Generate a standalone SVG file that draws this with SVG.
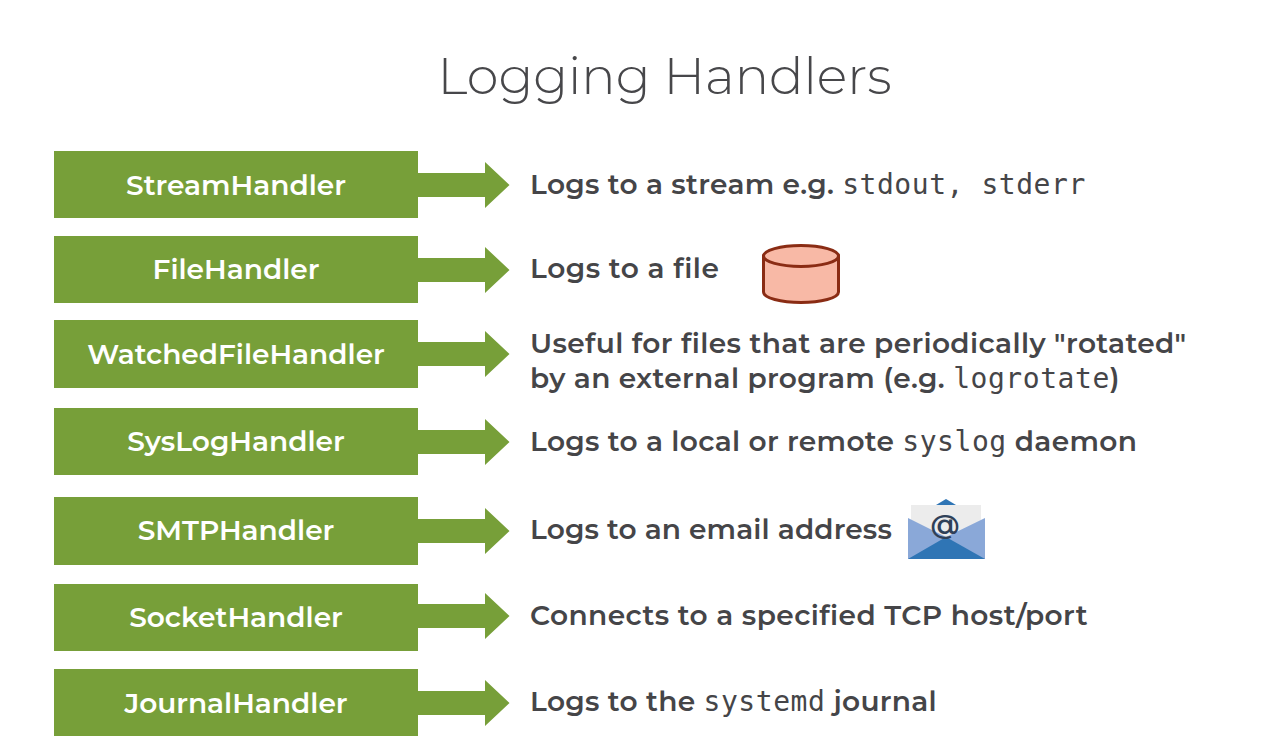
<svg xmlns="http://www.w3.org/2000/svg" width="1261" height="750" viewBox="0 0 1261 750">
<style>
text{font-family:"Montserrat","Open Sans","Liberation Sans",sans-serif}
.b{fill:#779f39}
.l{fill:#fff;font-size:28px;font-weight:600;text-anchor:middle}
.d{fill:#454548;font-size:28px;font-weight:600;letter-spacing:.32px}
.m{font-family:"DejaVu Sans Mono","Liberation Mono",monospace;font-weight:400;font-size:28px;letter-spacing:.55px}
.a{fill:#779f39}
</style>
<rect width="1261" height="750" fill="#fff"/>
<text x="664.500" y="94" font-size="51" fill="#47474a" text-anchor="middle" style="font-weight:300">Logging Handlers</text>
<g id="connectors">
<path class="a" d="M418 173H485V162L509.500 185L485 208V197H418Z"/>
<path class="a" d="M418 258H485V247L509.500 270L485 293V282H418Z"/>
<path class="a" d="M418 342H485V331L509.500 354L485 377V366H418Z"/>
<path class="a" d="M418 430H485V419L509.500 442L485 465V454H418Z"/>
<path class="a" d="M418 519H485V508L509.500 531L485 554V543H418Z"/>
<path class="a" d="M418 604H485V593L509.500 616L485 639V628H418Z"/>
<path class="a" d="M418 691H485V680L509.500 703L485 726V715H418Z"/>
</g>
<g id="n1"><rect class="b" x="54" y="151" width="364" height="67"/><text class="l" x="236" y="195">StreamHandler</text></g>
<g id="n2"><rect class="b" x="54" y="236" width="364" height="67"/><text class="l" x="236" y="279">FileHandler</text></g>
<g id="n3"><rect class="b" x="54" y="320" width="364" height="68"/><text class="l" x="236" y="364">WatchedFileHandler</text></g>
<g id="n4"><rect class="b" x="54" y="408" width="364" height="67"/><text class="l" x="236" y="451">SysLogHandler</text></g>
<g id="n5"><rect class="b" x="54" y="497" width="364" height="68"/><text class="l" x="236" y="540">SMTPHandler</text></g>
<g id="n6"><rect class="b" x="54" y="584" width="364" height="67"/><text class="l" x="236" y="627">SocketHandler</text></g>
<g id="n7"><rect class="b" x="54" y="669" width="364" height="67"/><text class="l" x="236" y="713">JournalHandler</text></g>
<g id="descriptions">
<text class="d" x="530" y="194">Logs to a stream e.g. <tspan class="m">stdout, stderr</tspan></text>
<text class="d" x="530" y="278" style="letter-spacing:.52px">Logs to a file</text>
<text class="d" x="530" y="353" style="letter-spacing:.38px">Useful for files that are periodically "rotated"</text>
<text class="d" x="530" y="388" style="letter-spacing:.36px">by an external program (e.g. <tspan class="m">logrotate</tspan>)</text>
<text class="d" x="530" y="451">Logs to a local or remote <tspan class="m">syslog</tspan> daemon</text>
<text class="d" x="530" y="539" style="letter-spacing:.15px">Logs to an email address</text>
<text class="d" x="530" y="625" style="letter-spacing:.43px">Connects to a specified TCP host/port</text>
<text class="d" x="530" y="711">Logs to the <tspan class="m">systemd</tspan> journal</text>
</g>
<g id="file-icon">
<path d="M763.500 256V292C763.500 298 781 302.500 801 302.500C821 302.500 838.500 298 838.500 292V256Z" fill="#f8b9a6" stroke="#8a2c14" stroke-width="3"/>
<ellipse cx="801" cy="256" rx="37.500" ry="10.500" fill="#f8b9a6" stroke="#8a2c14" stroke-width="3"/>
</g>
<g id="mail-icon">
<path d="M936 505L946 499L956 505Z" fill="#2f75b5"/>
<path d="M917 505H981V522L946 538L911 520V505Z" fill="#ececec"/>
<path d="M908 518L946 537L985 518V559H908Z" fill="#8aa8d8"/>
<path d="M908 559L946 537L985 559Z" fill="#2f75b5"/>
<text x="945" y="534" font-size="28" font-weight="600" fill="#2f4058" text-anchor="middle">@</text>
</g>
</svg>
